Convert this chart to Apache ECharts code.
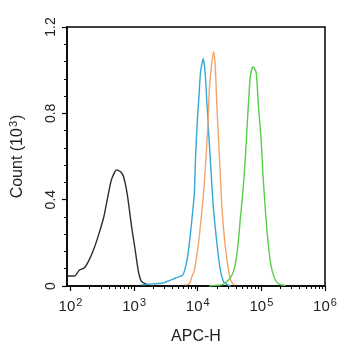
<!DOCTYPE html>
<html>
<head>
<meta charset="utf-8">
<script src="https://cdn.jsdelivr.net/npm/echarts@6/dist/echarts.min.js"></script>
<style>html,body{margin:0;padding:0;background:#fff}#c{width:345px;height:350px}</style>
</head>
<body>
<div id="c"></div>
<script>
// ---- data (APC-H values, counts in 10^3) ----
const blackX = [90,115,138,164,196,235,281,335,400,445,532,613,683,787,907,1046,1164,1295,1546,1983];
const blackY = [0.046,0.046,0.074,0.083,0.12,0.175,0.244,0.322,0.437,0.497,0.538,0.529,0.506,0.418,0.280,0.161,0.069,0.023,0.009,0.0];

const blueX = [1295,1983,2831,4498,5768,6188,6890,7663,8230,8840,9250,9820,10450,11050,12170,13060,14030,15070,16190,17660,20000,22490,25640,29580,33000];
const blueY = [0.005,0.01,0.014,0.037,0.05,0.07,0.13,0.24,0.33,0.43,0.60,0.759,0.878,0.99,1.053,0.989,0.832,0.680,0.529,0.359,0.198,0.08,0.018,0.005,0.0];

const orangeX = [6410,7390,8230,8840,10280,11460,12480,13520,14520,15210,16340,17780,18850,20000,21220,22490,23880,26290,29580,33340,38000];
const orangeY = [0.005,0.01,0.05,0.07,0.2,0.33,0.45,0.60,0.76,0.91,1.016,1.085,1.016,0.832,0.68,0.529,0.372,0.22,0.097,0.023,0.003];

const greenX = [15070,18620,23880,30620,36600,42200,46950,51650,56100,60250,63950,67000,73800,82950,90000,99100,105200,114300,125700,141300,168700,201700,241200];
const greenY = [0,0.003,0.005,0.028,0.069,0.17,0.32,0.45,0.60,0.76,0.887,0.97,1.016,0.989,0.832,0.680,0.529,0.372,0.22,0.097,0.023,0.005,0.003];

const xDecades = [2,3,4,5,6];       // tick labels 10^2 ... 10^6
const yTicks = [0, 0.4, 0.8, 1.2];

const FONT = "'Liberation Sans', Arial, sans-serif";
const log = v => Math.log10(v);
const pairs = (xs, ys) => xs.map((x, i) => [log(x), ys[i]]);

const minor = [];
for (let d = 2; d < 6; d++) for (let k = 2; k <= 9; k++) minor.push(d + Math.log10(k));

const chart = echarts.init(document.getElementById('c'), null, {renderer: 'canvas'});
const lineStyle = c => ({color: c, width: 1.4});
const mk = (name, xs, ys, c) => ({
  name, type: 'line', data: pairs(xs, ys), showSymbol: false, smooth: 0.2,
  lineStyle: lineStyle(c), itemStyle: {color: c}, xAxisIndex: 0, yAxisIndex: 0, z: 3
});

chart.setOption({
  animation: false,
  backgroundColor: '#fff',
  grid: {left: 62, right: 20, top: 27, bottom: 62, show: true, borderColor: '#000', borderWidth: 1.5, containLabel: false},
  xAxis: [{
    type: 'value', min: 1.945, max: 6, position: 'bottom',
    name: 'APC-H', nameLocation: 'middle', nameGap: 43,
    nameTextStyle: {fontFamily: FONT, fontSize: 16, color: '#222'},
    axisLine: {show: true, lineStyle: {color: '#000', width: 1.5}},
    axisTick: {show: true, customValues: xDecades, length: 5, lineStyle: {color: '#000', width: 1.2}},
    axisLabel: {
      customValues: xDecades, margin: 11,
      formatter: v => '{b|10}{s|' + Math.round(v) + '}',
      rich: {
        b: {fontFamily: FONT, fontSize: 15, color: '#222'},
        s: {fontFamily: FONT, fontSize: 11, color: '#222', padding: [0, 0, 8, 1]}
      }
    },
    splitLine: {show: false}
  }, {
    type: 'value', min: 1.945, max: 6, position: 'bottom',
    axisLine: {show: false},
    axisTick: {show: true, customValues: minor, length: 3, lineStyle: {color: '#000', width: 1}},
    axisLabel: {show: false},
    splitLine: {show: false}
  }],
  yAxis: {
    type: 'value', min: 0, max: 1.2, interval: 0.4,
    name: '{a|Count (10}{s|3}{a|)}', nameLocation: 'middle', nameGap: 40, nameRotate: 90,
    nameTextStyle: {rich: {
      a: {fontFamily: FONT, fontSize: 16, color: '#222'},
      s: {fontFamily: FONT, fontSize: 11, color: '#222', padding: [0, 1, 8, 1]}
    }},
    axisLine: {show: true, lineStyle: {color: '#000', width: 1.5}},
    axisTick: {show: true, length: 5, lineStyle: {color: '#000', width: 1.2}},
    minorTick: {show: true, splitNumber: 5, length: 3, lineStyle: {color: '#000', width: 1}},
    axisLabel: {rotate: 90, margin: 9, fontFamily: FONT, fontSize: 14, color: '#222',
      formatter: v => yTicks.includes(Math.round(v * 10) / 10) ? String(Math.round(v * 10) / 10) : ''},
    splitLine: {show: false}
  },
  series: [
    mk('black', blackX, blackY, '#2e2e2e'),
    mk('blue', blueX, blueY, '#35a8d8'),
    mk('orange', orangeX, orangeY, '#f2a46c'),
    mk('green', greenX, greenY, '#55d046')
  ]
});
</script>
</body>
</html>
